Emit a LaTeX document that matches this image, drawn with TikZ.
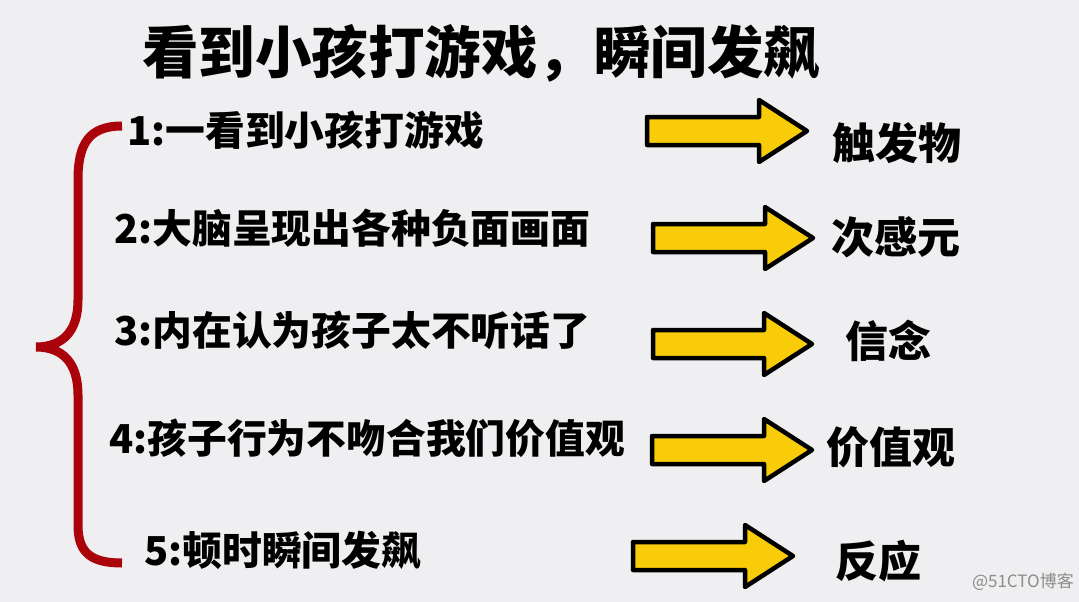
\documentclass[tikz,border=0pt]{standalone}
\usepackage{fontspec}
\newfontfamily\cjk{Noto Sans CJK SC}
\usepackage{tikz}
\definecolor{bgcol}{RGB}{239,238,240}
\definecolor{bracecol}{RGB}{170,4,10}
\definecolor{arrowcol}{RGB}{248,204,8}
\tikzset{
  item/.style={anchor=west,inner sep=0pt,font=\cjk\bfseries\fontsize{39.8}{40}\selectfont},
  result/.style={inner sep=0pt,font=\cjk\bfseries\fontsize{43}{43}\selectfont},
  yarrow/.style={draw=black,fill=arrowcol,line width=4.5pt,line join=round}
}
\begin{document}
\begin{tikzpicture}[x=1pt,y=-1pt]
        \fill[bgcol] (0,0) rectangle (1079,602);
        \useasboundingbox (0,0) rectangle (1079,602);
        \node[inner sep=0pt,font=\cjk\bfseries\fontsize{56.5}{57}\selectfont] (title) at (481,53) {看到小孩打游戏，瞬间发飙};
        % left brace
        \draw[bracecol,line width=9pt] (122,126) .. controls (88,126) and (78,145) .. (78,180) -- (78,300)
            .. controls (78,332) and (62,347) .. (36,347) .. controls (62,347) and (78,362) .. (78,395)
            -- (78,525) .. controls (78,552) and (90,563) .. (122,563);
        \node[item] (i1) at (127,130) {1:一看到小孩打游戏};
        \node[item] (i2) at (114,228) {2:大脑呈现出各种负面画面};
        \node[item] (i3) at (114,330) {3:内在认为孩子太不听话了};
        \node[item] (i4) at (109,438) {4:孩子行为不吻合我们价值观};
        \node[item] (i5) at (144,550) {5:顿时瞬间发飙};
        % arrows
        \foreach \l/\t/\c in {647/807/131, 653/813/238, 653/812/344, 652/812/450, 633/793/556}
            \draw[yarrow] (\l,\c-14) -- (\t-48,\c-14) -- (\t-48,\c-31) -- (\t,\c) -- (\t-48,\c+31)
                -- (\t-48,\c+14) -- (\l,\c+14) -- cycle;
        \node[result] (r1) at (897,143) {触发物};
        \node[result] (r2) at (896,237) {次感元};
        \node[result] (r3) at (888,341) {信念};
        \node[result] (r4) at (891,447) {价值观};
        \node[result] (r5) at (878,561) {反应};
        \node[anchor=east,inner sep=0pt,text=black!45,font=\cjk\fontsize{17}{17}\selectfont] (mark) at (1074,582) {@51CTO博客};
\end{tikzpicture}
\end{document}
